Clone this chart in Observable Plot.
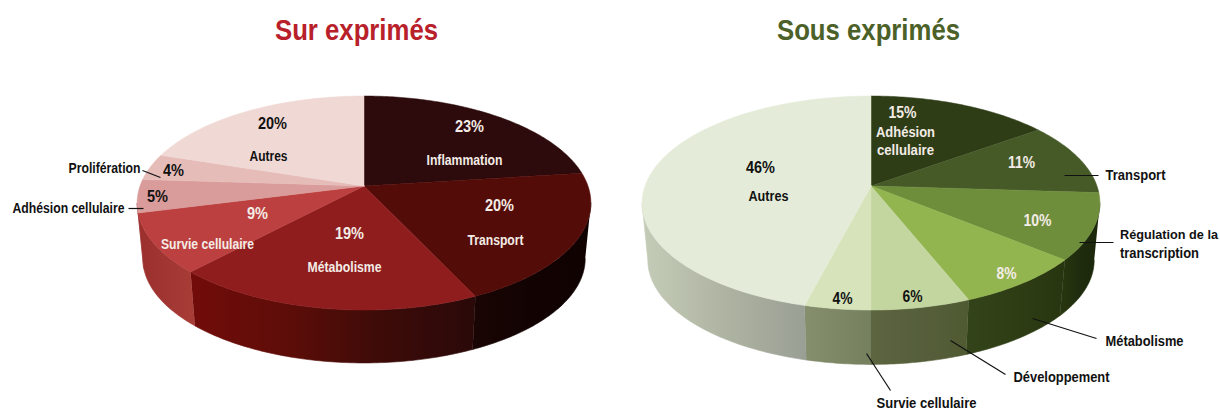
<!DOCTYPE html>
<html lang="fr">
<head>
<meta charset="utf-8">
<title>Sur exprimés / Sous exprimés</title>
<script src="https://cdn.jsdelivr.net/npm/d3@7"></script>
<script src="https://cdn.jsdelivr.net/npm/@observablehq/plot@0.6"></script>
<style>html,body{margin:0;padding:0;background:#fff}svg{display:block}</style>
</head>
<body>
<div id="chart"></div>
<script>
// ---- data
const surCategories = ["Inflammation", "Transport", "Métabolisme", "Survie cellulaire", "Adhésion cellulaire", "Prolifération", "Autres"];
const surValues = [23, 20, 19, 9, 5, 4, 20];
const sousCategories = ["Adhésion cellulaire", "Transport", "Régulation de la transcription", "Métabolisme", "Développement", "Survie cellulaire", "Autres"];
const sousValues = [15, 11, 10, 8, 6, 4, 46];

// ---- styles
const surTop = ["#2d0a0b", "#540c09", "#8f1d1e", "#bd4040", "#d99c9b", "#e6bcb9", "#f0d9d5"];
const sousTop = ["#2f3d17", "#465a28", "#6f8e3c", "#93b54f", "#c4d6a0", "#d6e3bb", "#e4ecd9"];
const surWall = [
  ["#1a0403", "#1a0403"],
  ["#190504", "#120302", "#0f0201"],
  ["#720c0a", "#5e0d08", "#3d0b08", "#2a0909"],
  ["#9a2f2d", "#a83c37"],
  ["#9a2f2d", "#9a2f2d"],
  ["#9a2f2d", "#9a2f2d"],
  ["#9a2f2d", "#9a2f2d"]
];
const sousWall = [
  ["#2a3812", "#2a3812"],
  ["#2a3812", "#2a3812"],
  ["#29370f", "#1f2c0e", "#1b260b"],
  ["#33431a", "#2e3d14", "#283610"],
  ["#5c6540", "#565f3b", "#4f5a32"],
  ["#858f6d", "#7d8766", "#75805f"],
  ["#c4ccb8", "#aeb4a1", "#9a9f95"]
];

// ---- pie geometry (screen space of the scales below)
const surPie = {id: "sur", cx: 363.5, cy: 185.5, b: 224, a: 104.3, k: 0.159, s: 0.975, dy: 56};
const sousPie = {id: "sous", cx: 870.5, cy: 185.5, b: 226, a: 104.3, k: 0.159, s: 0.975, dy: 57.5};

function project(p, t, low) {
  const X = Math.sin(t), Y = -Math.cos(t), w = 1 - p.k * Y;
  const u = p.b * X / w, v = p.a * Y / w;
  return low ? {x: p.cx + p.s * u, y: p.cy + p.dy + p.s * v} : {x: p.cx + u, y: p.cy + v};
}
function arcPoints(p, t0, t1, low) {
  const n = Math.max(2, Math.ceil(Math.abs(t1 - t0) / 0.015));
  return d3.range(n + 1).map(i => project(p, t0 + (t1 - t0) * i / n, low));
}
function pieMarks(p, values, tops) {
  const arcs = d3.pie().sort(null)(values);
  const tR = Math.acos(p.k), vis0 = Math.PI - tR, vis1 = Math.PI + tR; // silhouette tangents
  const marks = [];
  arcs.forEach((a, i) => {
    const t0 = Math.max(a.startAngle, vis0), t1 = Math.min(a.endAngle, vis1);
    if (t1 <= t0) return;
    const pts = [...arcPoints(p, t0, t1, false), ...arcPoints(p, t1, t0, true)];
    const f = `url(#${p.id}-wall-${i})`;
    marks.push(Plot.line(pts, {x: "x", y: "y", fill: f, stroke: f, strokeWidth: 0.6}));
  });
  arcs.forEach((a, i) => {
    const pts = [{x: p.cx, y: p.cy}, ...arcPoints(p, a.startAngle, a.endAngle, false), {x: p.cx, y: p.cy}];
    marks.push(Plot.line(pts, {x: "x", y: "y", fill: tops[i], stroke: tops[i], strokeWidth: 0.5}));
  });
  return marks;
}
function gradientDefs() {
  const defs = d3.create("svg:defs");
  [["sur", surWall], ["sous", sousWall]].forEach(([id, walls]) => walls.forEach((stops, i) => {
    const g = defs.append("linearGradient").attr("id", `${id}-wall-${i}`)
      .attr("x1", 0).attr("x2", 1).attr("y1", 0).attr("y2", 0);
    stops.forEach((c, j) => g.append("stop").attr("offset", j / (stops.length - 1)).attr("stop-color", c));
  }));
  return defs.node();
}

// ---- annotation layout
const black = "#111", pale = "#f4ece6";
const pct = v => v + "%";
const percentLabels = [
  {t: pct(surValues[0]), x: 469, y: 126, c: pale, w: 29},
  {t: pct(surValues[1]), x: 499, y: 205, c: pale, w: 29},
  {t: pct(surValues[2]), x: 349, y: 233, c: pale, w: 29},
  {t: pct(surValues[3]), x: 257, y: 213, c: pale, w: 21},
  {t: pct(surValues[4]), x: 157, y: 196, c: black, w: 21},
  {t: pct(surValues[5]), x: 173, y: 170, c: black, w: 21},
  {t: pct(surValues[6]), x: 272, y: 123, c: black, w: 29},
  {t: pct(sousValues[0]), x: 902, y: 112, c: pale, w: 28},
  {t: pct(sousValues[1]), x: 1021, y: 162, c: pale, w: 27},
  {t: pct(sousValues[2]), x: 1037, y: 220, c: pale, w: 28},
  {t: pct(sousValues[3]), x: 1006, y: 273, c: pale, w: 20},
  {t: pct(sousValues[4]), x: 912, y: 296, c: black, w: 20},
  {t: pct(sousValues[5]), x: 842, y: 298, c: black, w: 20},
  {t: pct(sousValues[6]), x: 760, y: 167, c: black, w: 29}
];
const nameLabels = [
  {t: surCategories[0], x: 464, y: 160, c: pale, w: 76, s: 14},
  {t: surCategories[1], x: 495, y: 240, c: pale, w: 56, s: 14},
  {t: surCategories[2], x: 344, y: 267, c: pale, w: 74, s: 14},
  {t: surCategories[3], x: 207, y: 244, c: pale, w: 93, s: 14},
  {t: surCategories[4], x: 68, y: 208, c: black, w: 112, s: 14},
  {t: surCategories[5], x: 104, y: 168, c: black, w: 72, s: 14},
  {t: surCategories[6], x: 268, y: 156, c: black, w: 38, s: 14},
  {t: "Adhésion", x: 905, y: 132, c: pale, w: 59, s: 14},
  {t: "cellulaire", x: 905, y: 150, c: pale, w: 57, s: 14},
  {t: sousCategories[1], x: 1135, y: 175, c: black, w: 60, s: 14},
  {t: "Régulation de la", x: 1168.5, y: 234, c: black, w: 98, s: 12.5},
  {t: "transcription", x: 1159, y: 253, c: black, w: 79, s: 14},
  {t: sousCategories[3], x: 1144, y: 341, c: black, w: 78, s: 14},
  {t: sousCategories[4], x: 1061, y: 377, c: black, w: 96, s: 14},
  {t: sousCategories[5], x: 926, y: 403, c: black, w: 100, s: 14},
  {t: sousCategories[6], x: 768, y: 196, c: black, w: 40, s: 14}
];
const leaders = [
  {x1: 142, y1: 170, x2: 160, y2: 177},
  {x1: 128, y1: 208, x2: 143, y2: 208},
  {x1: 1064, y1: 175, x2: 1098, y2: 175},
  {x1: 1079, y1: 242, x2: 1113, y2: 242},
  {x1: 1032, y1: 318, x2: 1096, y2: 338},
  {x1: 950, y1: 340, x2: 1005, y2: 374},
  {x1: 866, y1: 353, x2: 890, y2: 390}
];
const titles = [
  {t: "Sur exprimés", x: 356, y: 30, c: "#b8202a", w: 163},
  {t: "Sous exprimés", x: 868, y: 30, c: "#4c6128", w: 183}
];
// squeeze each label to the width it has in the picture
const fitted = (rows) => (index, scales, values, dims, ctx, next) => {
  const g = next(index, scales, values, dims, ctx);
  d3.select(g).selectAll("text").each(function (_, k) {
    this.setAttribute("textLength", rows[index[k]].w);
    this.setAttribute("lengthAdjust", "spacingAndGlyphs");
  });
  return g;
};

const font = "'Liberation Sans', Arial, sans-serif";
const chart = Plot.plot({
  width: 1220,
  height: 410,
  margin: 0,
  x: {domain: [0, 1220], range: [0, 1220], axis: null},
  y: {domain: [0, 410], range: [0, 410], axis: null},
  style: {fontFamily: font, background: "#fff", maxWidth: "none"},
  marks: [
    gradientDefs,
    ...pieMarks(surPie, surValues, surTop),
    ...pieMarks(sousPie, sousValues, sousTop),
    Plot.link(leaders, {x1: "x1", y1: "y1", x2: "x2", y2: "y2", stroke: "#111", strokeWidth: 1.2}),
    Plot.text(percentLabels, {x: "x", y: "y", text: "t", fill: "c", fontSize: 17, fontWeight: 700, textAnchor: "middle", render: fitted(percentLabels)}),
    Plot.text(nameLabels, {x: "x", y: "y", text: "t", fill: "c", fontSize: d => d.s, fontWeight: 700, textAnchor: "middle", render: fitted(nameLabels)}),
    Plot.text(titles, {x: "x", y: "y", text: "t", fill: "c", fontSize: 30, fontWeight: 700, textAnchor: "middle", render: fitted(titles)})
  ]
});
document.getElementById("chart").appendChild(chart);
</script>
</body>
</html>
